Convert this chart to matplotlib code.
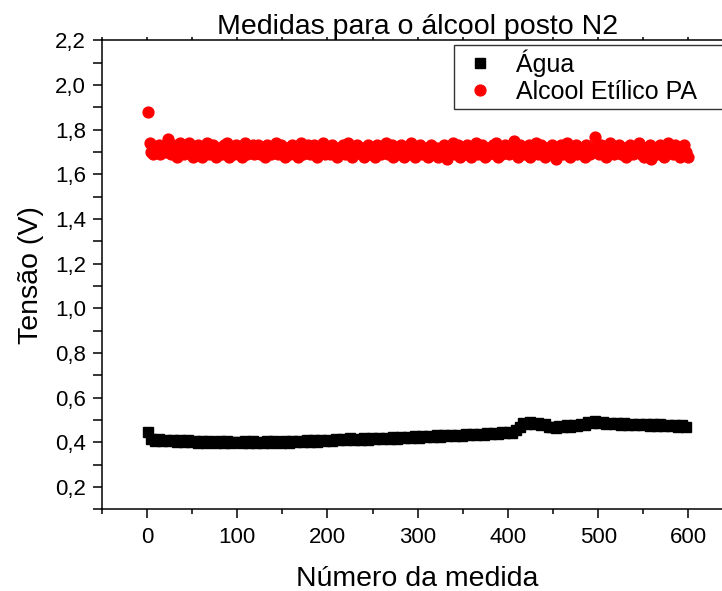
import numpy as np
import matplotlib.pyplot as plt
from matplotlib.ticker import MultipleLocator, FuncFormatter

plt.rcParams['font.family'] = ['Liberation Sans', 'DejaVu Sans']

# agua: a cada 4 medidas (1, 5, ..., 597); alcool: a cada 2 (1, 3, ..., 599)
n_agua = np.arange(1, 601, 4)
n_alcool = np.arange(1, 601, 2)

agua = [
    0.448, 0.415, 0.408, 0.416, 0.406, 0.413, 0.405, 0.411, 0.404, 0.412,
    0.403, 0.410, 0.400, 0.408, 0.399, 0.407, 0.398, 0.406, 0.401, 0.397,
    0.406, 0.399, 0.405, 0.397, 0.404, 0.400, 0.396, 0.405, 0.398, 0.406,
    0.397, 0.404, 0.399, 0.406, 0.398, 0.405, 0.400, 0.397, 0.406, 0.399,
    0.407, 0.401, 0.408, 0.400, 0.409, 0.403, 0.410, 0.404, 0.411, 0.406,
    0.413, 0.408, 0.416, 0.409, 0.415, 0.411, 0.418, 0.410, 0.417, 0.413,
    0.419, 0.413, 0.420, 0.414, 0.421, 0.416, 0.422, 0.415, 0.423, 0.417,
    0.424, 0.418, 0.425, 0.420, 0.428, 0.422, 0.430, 0.424, 0.431, 0.426,
    0.432, 0.426, 0.433, 0.427, 0.434, 0.429, 0.435, 0.430, 0.437, 0.432,
    0.438, 0.433, 0.440, 0.435, 0.441, 0.437, 0.443, 0.438, 0.445, 0.441,
    0.447, 0.443, 0.454, 0.468, 0.487, 0.484, 0.490, 0.483, 0.488, 0.479,
    0.481, 0.470, 0.471, 0.463, 0.472, 0.468, 0.476, 0.470, 0.479, 0.473,
    0.481, 0.478, 0.490, 0.487, 0.495, 0.489, 0.493, 0.483, 0.489, 0.481,
    0.487, 0.480, 0.486, 0.478, 0.484, 0.477, 0.483, 0.476, 0.482, 0.475,
    0.482, 0.474, 0.481, 0.473, 0.480, 0.472, 0.479, 0.471, 0.478, 0.470,
]

alcool = [
    1.88, 1.74, 1.70, 1.69, 1.72, 1.70, 1.73, 1.69, 1.71, 1.72,
    1.70, 1.76, 1.71, 1.69, 1.73, 1.70, 1.68, 1.72, 1.74, 1.70,
    1.69, 1.73, 1.71, 1.74, 1.70, 1.68, 1.72, 1.69, 1.73, 1.71,
    1.68, 1.72, 1.70, 1.74, 1.69, 1.71, 1.73, 1.70, 1.68, 1.72,
    1.71, 1.69, 1.73, 1.70, 1.74, 1.68, 1.71, 1.72, 1.69, 1.73,
    1.70, 1.72, 1.68, 1.71, 1.74, 1.69, 1.72, 1.70, 1.73, 1.69,
    1.71, 1.73, 1.69, 1.72, 1.70, 1.68, 1.73, 1.71, 1.69, 1.72,
    1.70, 1.74, 1.69, 1.71, 1.73, 1.70, 1.68, 1.72, 1.71, 1.69,
    1.73, 1.70, 1.72, 1.68, 1.71, 1.74, 1.69, 1.72, 1.70, 1.73,
    1.69, 1.71, 1.73, 1.70, 1.68, 1.72, 1.70, 1.74, 1.69, 1.71,
    1.72, 1.69, 1.73, 1.70, 1.71, 1.68, 1.72, 1.70, 1.73, 1.69,
    1.71, 1.74, 1.70, 1.68, 1.72, 1.69, 1.73, 1.71, 1.70, 1.72,
    1.68, 1.71, 1.73, 1.69, 1.72, 1.70, 1.68, 1.73, 1.71, 1.69,
    1.72, 1.70, 1.74, 1.69, 1.71, 1.73, 1.68, 1.70, 1.72, 1.69,
    1.73, 1.70, 1.68, 1.72, 1.69, 1.71, 1.74, 1.70, 1.68, 1.72,
    1.70, 1.73, 1.69, 1.71, 1.72, 1.68, 1.70, 1.73, 1.69, 1.71,
    1.72, 1.68, 1.71, 1.69, 1.73, 1.70, 1.67, 1.72, 1.70, 1.74,
    1.69, 1.71, 1.73, 1.68, 1.70, 1.72, 1.69, 1.73, 1.71, 1.68,
    1.72, 1.70, 1.74, 1.69, 1.71, 1.73, 1.70, 1.68, 1.72, 1.69,
    1.71, 1.73, 1.70, 1.74, 1.68, 1.72, 1.69, 1.71, 1.73, 1.70,
    1.69, 1.72, 1.70, 1.75, 1.71, 1.68, 1.73, 1.70, 1.72, 1.69,
    1.71, 1.73, 1.68, 1.72, 1.70, 1.74, 1.69, 1.71, 1.73, 1.70,
    1.68, 1.72, 1.69, 1.71, 1.73, 1.70, 1.67, 1.72, 1.70, 1.73,
    1.69, 1.71, 1.74, 1.70, 1.68, 1.72, 1.70, 1.73, 1.69, 1.71,
    1.72, 1.70, 1.68, 1.73, 1.70, 1.69, 1.72, 1.71, 1.77, 1.72,
    1.69, 1.73, 1.70, 1.72, 1.68, 1.71, 1.74, 1.70, 1.69, 1.72,
    1.70, 1.73, 1.69, 1.71, 1.72, 1.68, 1.70, 1.73, 1.71, 1.69,
    1.72, 1.70, 1.74, 1.69, 1.71, 1.68, 1.72, 1.70, 1.73, 1.67,
    1.70, 1.72, 1.69, 1.71, 1.73, 1.70, 1.68, 1.72, 1.74, 1.70,
    1.71, 1.69, 1.73, 1.70, 1.72, 1.68, 1.71, 1.73, 1.70, 1.68,
]

fig = plt.figure(figsize=(7.22, 5.91), dpi=100)
# eixo x vai alem da borda direita da figura
ax = fig.add_axes([0.141, 0.138, 0.875, 0.7935])

ax.plot(n_agua, agua, 's', color='black', ms=6.8, label='Água')
ax.plot(n_alcool, alcool, 'o', color='red', ms=7.8, label='Alcool Etílico PA')

ax.set_xlim(-50, 650)
ax.set_ylim(0.1, 2.2)

ax.xaxis.set_major_locator(MultipleLocator(100))
ax.xaxis.set_minor_locator(MultipleLocator(50))
ax.yaxis.set_major_locator(MultipleLocator(0.2))
ax.yaxis.set_minor_locator(MultipleLocator(0.1))
ax.yaxis.set_major_formatter(FuncFormatter(lambda v, p: f'{v:.1f}'.replace('.', ',')))

for s in ax.spines.values():
    s.set_linewidth(1.1)
ax.spines['right'].set_visible(False)

ax.tick_params(which='both', direction='out', width=1.1, labelsize=16)
ax.tick_params(axis='y', which='both', length=6.5, pad=5)
ax.tick_params(axis='x', which='major', length=6.5, pad=6)
ax.tick_params(axis='x', which='minor', length=3.5)
ax.tick_params(axis='x', which='both', top=True)
# marcas do eixo superior curtas
for t in ax.xaxis.get_major_ticks() + ax.xaxis.get_minor_ticks():
    t.tick2line.set_markersize(2.5)

ax.set_xlabel('Número da medida', fontsize=20.5, labelpad=13)
ax.set_ylabel('Tensão (V)', fontsize=20.5, labelpad=8)
ax.set_title('Medidas para o álcool posto N2', fontsize=20.5, pad=5)

# legenda com caixa que passa da borda direita
leg = ax.legend(loc='upper left', mode='expand',
                bbox_to_anchor=(454 / 722, 0, 0.4, 1 - 45 / 591),
                bbox_transform=fig.transFigure, fontsize=18, frameon=True,
                fancybox=False, borderaxespad=0, handlelength=1.75,
                handletextpad=0.55, borderpad=0.18, labelspacing=0.12)
leg.get_frame().set_edgecolor('black')
leg.get_frame().set_linewidth(1.0)

fig.savefig('out.png', dpi=100)
